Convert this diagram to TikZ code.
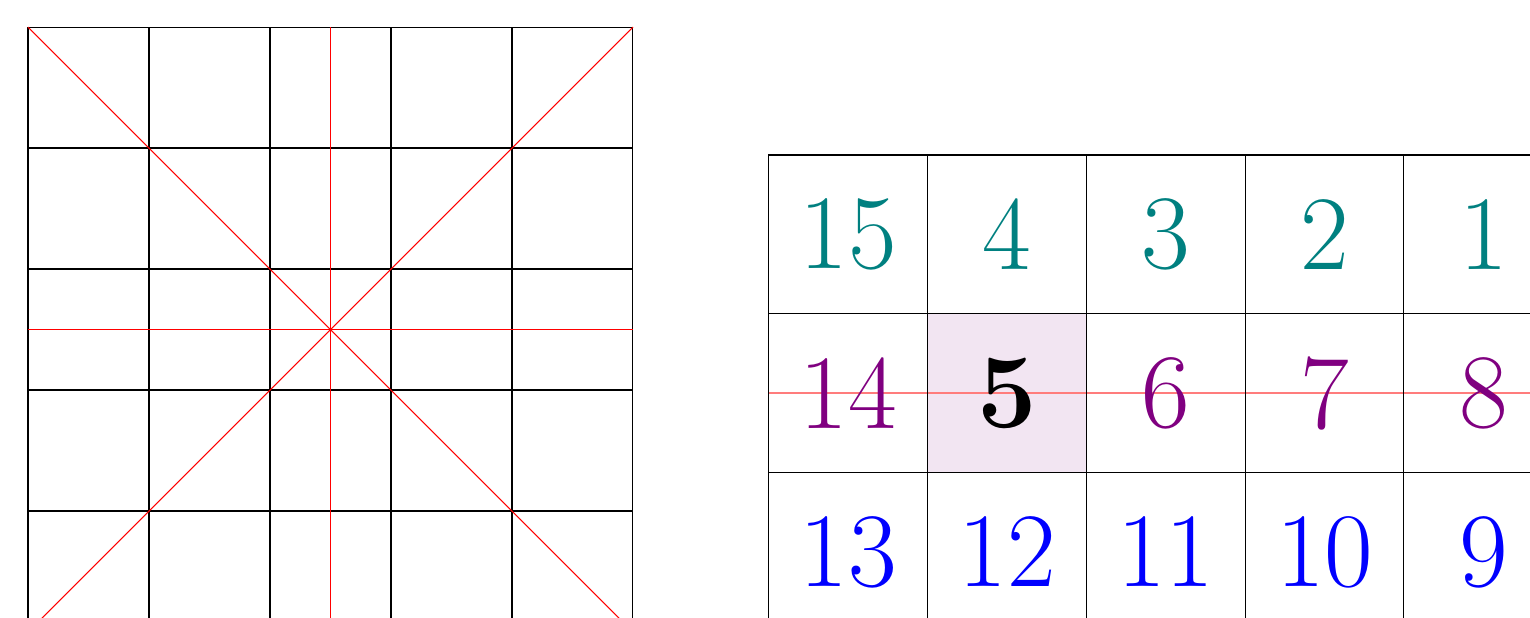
\documentclass[tikz,border=0pt]{standalone}
\usetikzlibrary{positioning, backgrounds}

\tikzset{
  cell/.style={draw, minimum size=1.312cm, inner sep=0pt, outer sep=0pt, font=\Huge},
}

\begin{document}
\begin{tikzpicture}[line width=0.25pt]
    \useasboundingbox (0,0) rectangle (12.645,-5.107);
    \clip (0,0) rectangle (12.645,-5.107);
    % left grid with guide lines
    \begin{scope}[shift={(0.2314,-0.2231)}]
      \coordinate (nw) at (0,0);
      \coordinate (ne) at (5,0);
      \coordinate (sw) at (0,-5);
      \coordinate (se) at (5,-5);
      \draw (sw) grid (ne);
      \draw [red] (nw) -- (se) (sw) -- (ne);
      \draw [red] (2.5,0) -- (2.5,-5) (0,-2.5) -- (5,-2.5);
    \end{scope}
    % right table
    \node [cell, text=teal] (a1) at (7.011,-1.937) {15};
    \foreach \n [count=\i from 2, count=\j] in {4,3,2,1}
      \node [cell, text=teal, right=0pt of a\j] (a\i) {\n};
    \node [cell, text=violet, below=0pt of a1] (b1) {14};
    \node [cell, right=0pt of b1] (b2) {\textbf{5}};
    \foreach \n [count=\i from 3, count=\j from 2] in {6,7,8}
      \node [cell, text=violet, right=0pt of b\j] (b\i) {\n};
    \node [cell, text=blue, below=0pt of b1] (c1) {13};
    \foreach \n [count=\i from 2, count=\j] in {12,11,10,9}
      \node [cell, text=blue, right=0pt of c\j] (c\i) {\n};
    \begin{scope}[on background layer]
      \fill [violet!10] (b2.south west) rectangle (b2.north east);
      \draw [red!35!pink] (b1.west) -- (b5.east);
    \end{scope}
\end{tikzpicture}
\end{document}
